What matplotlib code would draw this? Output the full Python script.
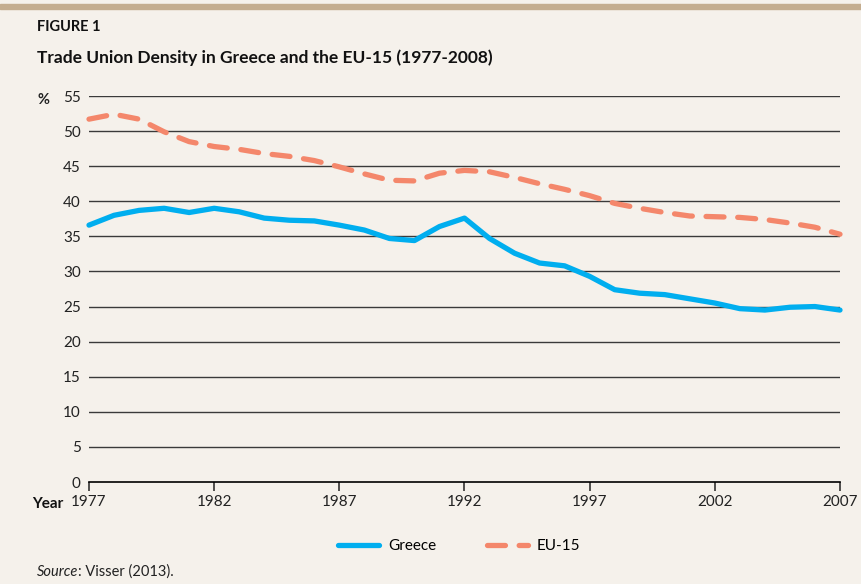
import matplotlib
matplotlib.use('Agg')
import matplotlib.pyplot as plt
from matplotlib.patches import Rectangle

plt.rcParams['font.family'] = ['Lato', 'DejaVu Sans']

years = list(range(1977, 2008))
greece = [36.6, 38.0, 38.7, 39.0, 38.4, 39.0, 38.5, 37.6, 37.3, 37.2, 36.6,
          35.9, 34.7, 34.4, 36.4, 37.6, 34.7, 32.6, 31.2, 30.8, 29.3, 27.4,
          26.9, 26.7, 26.1, 25.5, 24.7, 24.5, 24.9, 25.0, 24.5]
eu15 = [51.7, 52.4, 51.7, 49.9, 48.5, 47.8, 47.4, 46.8, 46.4, 45.8, 44.9,
        43.9, 43.0, 42.9, 44.0, 44.4, 44.2, 43.4, 42.5, 41.7, 40.8, 39.7,
        39.0, 38.4, 37.9, 37.8, 37.7, 37.4, 36.9, 36.3, 35.3]
x_ticks = [1977, 1982, 1987, 1992, 1997, 2002, 2007]
y_ticks = list(range(0, 56, 5))

bg = '#f5f1eb'
fig = plt.figure(figsize=(8.62, 5.84), dpi=100, facecolor=bg)
fig.patches.append(Rectangle((0, 1 - 9 / 584), 1, 5 / 584, transform=fig.transFigure,
                             color='#c4ad8f', zorder=0))

ax = fig.add_axes([89 / 862, 1 - 482 / 584, 751 / 862, 386 / 584])
ax.set_facecolor(bg)

ax.plot(years, greece, color='#00aeef', lw=3.8, solid_capstyle='round',
        solid_joinstyle='round', clip_on=False, label='Greece', zorder=3)
ax.plot(years, eu15, color='#f4876b', lw=3.8, dashes=(3.4, 2.6), dash_capstyle='round',
        clip_on=False, label='EU-15', zorder=3)

ax.set_xlim(1977, 2007)
ax.set_ylim(0, 55)
ax.set_xticks(x_ticks)
ax.set_yticks(y_ticks)
for v in y_ticks[1:]:
    ax.axhline(v, color='#3a3a3a', lw=1, zorder=1)

for s in ['top', 'right', 'left']:
    ax.spines[s].set_visible(False)
ax.spines['bottom'].set_color('black')
ax.spines['bottom'].set_linewidth(1.2)
ax.tick_params(axis='x', direction='out', length=6.5, width=1.1, pad=3,
               labelsize=11, colors='#222222')
ax.tick_params(axis='y', length=0, pad=6, labelsize=11, colors='#222222')

fig.text(37 / 862, 1 - 27 / 584, 'FIGURE 1', fontsize=10.5, fontweight='bold',
         va='center', ha='left', color='#111111')
fig.text(37 / 862, 1 - 58 / 584, 'Trade Union Density in Greece and the EU-15 (1977-2008)',
         fontsize=12.5, fontweight='bold', va='center', ha='left', color='#111111')
fig.text(38 / 862, 1 - 100 / 584, '%', fontsize=10.5, fontweight='bold',
         va='center', ha='left', color='#222222')
fig.text(32 / 862, 1 - 504 / 584, 'Year', fontsize=11, fontweight='bold',
         va='center', ha='left', color='#111111')

src = fig.text(37 / 862, 1 - 572 / 584, 'Source', fontsize=10.5, style='italic',
               va='center', ha='left', color='#222222')
fig.canvas.draw()
bb = src.get_window_extent().transformed(fig.transFigure.inverted())
fig.text(bb.x1, 1 - 572 / 584, ': Visser (2013).', fontsize=10.5,
         va='center', ha='left', color='#222222')

fig.legend(loc='center', bbox_to_anchor=(459 / 862, 1 - 546 / 584), ncol=2,
           frameon=False, fontsize=11, handlelength=2.7, columnspacing=3.3,
           handletextpad=0.6)

fig.savefig('out.png', dpi=100, facecolor=bg)
